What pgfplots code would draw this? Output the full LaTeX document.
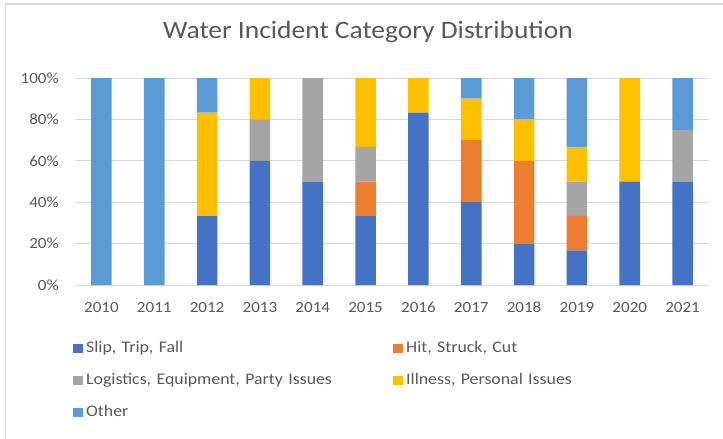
\documentclass[border=0pt]{standalone}
\usepackage{fontspec}
\setmainfont{Carlito}[FakeStretch=1.1]
\usepackage{pgfplots}
\pgfplotsset{compat=1.18}
\definecolor{cSlip}{HTML}{4472C4}
\definecolor{cHit}{HTML}{ED7D31}
\definecolor{cLog}{HTML}{A5A5A5}
\definecolor{cIll}{HTML}{FFC000}
\definecolor{cOth}{HTML}{5B9BD5}
\definecolor{txt}{HTML}{595959}
\definecolor{grd}{HTML}{D9D9D9}
\begin{document}
\begin{tikzpicture}
\path[use as bounding box] (0,0) rectangle (723pt,-439pt);
\draw[grd, line width=1.5pt] (723pt,-4pt) -- (5.5pt,-4pt) -- (5.5pt,-439pt);
\begin{axis}[
  at={(75pt,-285pt)}, anchor=south west,
  scale only axis, width=634pt, height=207pt,
  ybar stacked, bar width=20.6pt,
  xmin=-0.5, xmax=11.5, ymin=0, ymax=100,
  xtick={0,...,11},
  xticklabels={2010,2011,2012,2013,2014,2015,2016,2017,2018,2019,2020,2021},
  ytick={0,20,40,60,80,100},
  yticklabels={0\%,20\%,40\%,60\%,80\%,100\%},
  axis line style={draw=none},
  major tick length=0pt,
  ymajorgrids, grid style={grd, line width=0.9pt},
  tick label style={font=\fontsize{15.5}{16}\selectfont, text=txt, inner sep=0pt},
  xticklabel style={anchor=base, yshift=-27pt},
  yticklabel style={anchor=east, xshift=-16pt},
  title={Water Incident Category Distribution},
  title style={font=\fontsize{25}{28}\selectfont, text=txt, at={(0.462,1)}, anchor=base, yshift=34pt, inner sep=0pt},
  legend columns=2,
  legend cell align=left,
  legend style={at={(rel axis cs:-0.00363,-0.2705)}, anchor=north west, draw=none, fill=none,
    inner sep=0pt, outer sep=0pt,
    font=\fontsize{16.2}{17}\selectfont, text=txt,
    nodes={text height=12pt, text depth=4pt, inner sep=0pt, inner xsep=3.5pt, text width=303pt, align=left},
    row sep=16pt, column sep=0pt},
  legend image code/.code={\fill[#1] (0pt,-4.5pt) rectangle (10pt,4.5pt);},
  every axis plot/.append style={draw=none},
]
% 0:2010 ... 11:2021
\addplot[fill=cSlip] coordinates {(0,0) (1,0) (2,33.3) (3,60) (4,50) (5,33.3) (6,83.3) (7,40) (8,20) (9,16.7) (10,50) (11,50)};
\addplot[fill=cHit] coordinates {(0,0) (1,0) (2,0) (3,0) (4,0) (5,16.7) (6,0) (7,30) (8,40) (9,16.7) (10,0) (11,0)};
\addplot[fill=cLog] coordinates {(0,0) (1,0) (2,0) (3,20) (4,50) (5,16.7) (6,0) (7,0) (8,0) (9,16.6) (10,0) (11,25)};
\addplot[fill=cIll] coordinates {(0,0) (1,0) (2,50) (3,20) (4,0) (5,33.3) (6,16.7) (7,20) (8,20) (9,16.7) (10,50) (11,0)};
\addplot[fill=cOth] coordinates {(0,100) (1,100) (2,16.7) (3,0) (4,0) (5,0) (6,0) (7,10) (8,20) (9,33.3) (10,0) (11,25)};
\legend{{Slip, Trip, Fall},{Hit, Struck, Cut},{Logistics, Equipment, Party Issues},{Illness, Personal Issues},Other}
\end{axis}
\end{tikzpicture}
\end{document}
